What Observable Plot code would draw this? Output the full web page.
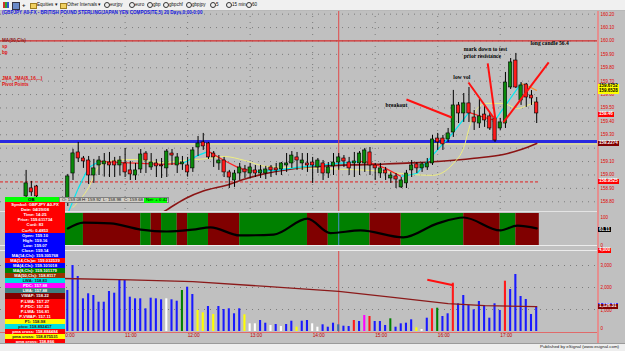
<!DOCTYPE html>
<html><head><meta charset="utf-8">
<script src="https://cdn.jsdelivr.net/npm/d3@7"></script>
<script src="https://cdn.jsdelivr.net/npm/@observablehq/plot@0.6"></script>
<style>
html,body{margin:0;padding:0;background:#c0c0c0;overflow:hidden}
#root{position:relative;width:625px;height:351px;background:#c0c0c0;overflow:hidden;font-family:"Liberation Sans",Arial,sans-serif}
.a{position:absolute;white-space:nowrap;line-height:1}
.panel{position:absolute;left:0}
.panel svg{display:block;overflow:hidden}
</style></head><body><div id="root"></div>
<script>
// ---------------- DATA ----------------
const titleText = "(GBPJPY A0-FX - BRITISH POUND STERLING/JAPAN YEN COMPOSITE,5) 20 Days,0:00-0:00";
const hourIdx = [-1, 11, 23, 35, 47, 59, 71, 83];
const hourLabels = ["10:00","11:00","12:00","13:00","14:00","15:00","16:00","17:00"];
const cursorIdx = 52; // 14:25

const preIdx = [-8, -7, -6];
const openP = [158.840,158.900,158.914,
158.825,159.011,159.168,159.123,159.108,158.996,159.071,159.079,159.093,159.101,
159.071,159.086,159.034,158.996,159.041,159.160,159.056,159.086,159.071,159.049,
159.160,159.071,159.079,159.071,159.049,159.205,159.243,159.235,159.160,159.086,
159.108,159.019,158.959,159.011,159.041,159.011,159.034,159.011,159.011,159.056,
159.049,159.041,159.071,159.086,159.131,159.086,159.086,159.093,159.056,159.086,
159.011,159.064,159.093,159.123,159.093,159.086,159.086,159.086,159.168,159.071,
159.011,159.034,158.974,158.989,158.907,158.937,159.034,159.079,159.049,159.056,
159.086,159.272,159.272,159.265,159.317,159.519,159.459,159.534,159.429,159.384,
159.451,159.437,159.422,159.347,159.384,159.653,159.854,159.556,159.675,159.593,
159.541];
const highP = [159.034,158.952,158.922,
159.004,159.191,159.243,159.138,159.138,159.116,159.138,159.160,159.168,159.131,
159.138,159.198,159.101,159.086,159.190,159.175,159.160,159.116,159.123,159.190,
159.190,159.160,159.138,159.131,159.205,159.287,159.310,159.243,159.175,159.145,
159.131,159.034,159.034,159.086,159.071,159.086,159.071,159.071,159.064,159.071,
159.086,159.093,159.160,159.175,159.168,159.160,159.160,159.131,159.123,159.108,
159.093,159.160,159.160,159.145,159.131,159.168,159.175,159.198,159.205,159.086,
159.086,159.056,159.019,159.011,158.981,159.034,159.108,159.093,159.093,159.123,
159.295,159.310,159.295,159.347,159.631,159.541,159.608,159.653,159.481,159.563,
159.519,159.466,159.429,159.422,159.765,159.869,159.907,159.690,159.683,159.630,
159.578];
const lowP = [158.810,158.840,158.818,
158.765,158.959,159.093,159.049,158.929,158.937,158.996,158.984,158.981,158.981,
158.992,158.981,158.959,158.959,159.011,159.011,159.034,158.981,158.974,158.981,
159.071,159.011,159.034,158.984,159.019,159.138,159.183,159.116,159.056,159.034,
158.981,158.899,158.907,158.959,158.974,158.974,158.981,158.974,158.966,158.981,
158.996,158.996,159.019,159.049,159.034,159.034,159.019,158.937,159.011,158.959,
158.974,158.996,159.034,159.056,158.996,158.981,158.996,159.019,158.996,158.959,
158.974,158.959,158.937,158.899,158.899,158.899,158.981,159.011,159.019,159.034,
159.071,159.183,159.183,159.243,159.280,159.384,159.392,159.392,159.332,159.347,
159.355,159.332,159.243,159.332,159.347,159.638,159.645,159.519,159.504,159.519,
159.384];
const closeP = [158.937,158.870,158.840,
158.989,159.161,159.123,159.101,158.996,159.049,159.108,159.101,159.071,159.071,
159.108,159.019,159.004,159.034,159.153,159.108,159.093,159.064,159.064,159.175,
159.145,159.131,159.093,159.019,159.183,159.235,159.213,159.131,159.131,159.108,
159.019,158.981,159.011,159.056,159.019,159.056,159.011,159.034,159.041,159.034,
159.034,159.086,159.086,159.145,159.108,159.108,159.071,159.071,159.108,159.011,
159.056,159.093,159.131,159.101,159.049,159.101,159.160,159.183,159.071,159.049,
159.049,159.011,158.996,158.966,158.959,159.011,159.071,159.049,159.079,159.086,
159.265,159.243,159.228,159.310,159.519,159.459,159.534,159.459,159.392,159.437,
159.407,159.347,159.257,159.392,159.690,159.840,159.653,159.668,159.578,159.571,
159.459];

// moving averages
const ma50Idx = [17,19,22.6,26,30.3,34,38,43,48,58.5,66,71,78,83.6,87,90];
const ma50Val = [158.69,158.74,158.825,158.88,158.922,158.97,159.011,159.045,159.064,159.079,159.09,159.101,159.125,159.153,159.19,159.235];
const yMaIdx = [1,4,6,9,13,18,22,27,30,34,38,42,48,54,58,62,66,70,72,74,76,77.3,78.6,80.2,83.6,86.3,88.2,90];
const yMaVal = [158.758,158.907,159.064,159.108,159.116,159.093,159.108,159.123,159.138,159.108,159.064,159.056,159.049,159.041,159.034,159.019,159.004,158.997,159.019,159.086,159.205,159.384,159.496,159.534,159.534,159.496,159.519,159.549];
const jmaIdx = [0,2,4,6,10,14,18,22,25,27,30,33,36,40,44,48,52,56,58,61,64,67,70,74,77,80,82,84,87,88.5,90];
const jmaVal = [158.713,158.900,159.056,159.101,159.093,159.086,159.079,159.086,159.146,159.176,159.108,159.049,159.026,159.034,159.056,159.071,159.086,159.101,159.093,159.049,158.989,159.011,159.146,159.317,159.467,159.429,159.407,159.519,159.683,159.660,159.630];
const jmaState = "UUUDDDDUUDDDUUUUUDDDUUUUDDUUNN";

// levels
const resistance = 160.00;
const support = 159.25;
const supportTint = 159.231;
const pivotLevel = 158.948;
const priceGrid = [160.2,160.1,160.0,159.9,159.8,159.7,159.6,159.5,159.4,159.3,159.2,159.1,159.0,158.9,158.8];
const priceLabels = [160.2,160.1,160.0,159.9,159.8,159.7,159.6,159.5,159.4,159.3,159.1,159.0,158.9,158.8];

// annotations
const annoX1 = [65.0, 76.9, 80.6, 92.3];
const annoY1 = [159.563, 159.690, 159.832, 159.840];
const annoX2 = [73.7, 81.7, 82.1, 83.6];
const annoY2 = [159.429, 159.429, 159.407, 159.392];
const annoText = ["breakout","low vol","mark down to test","prior resistance","long candle 56.4"];
const annoTextX = [61.0, 74.0, 76.0, 76.0, 88.8];
const annoTextY = [159.519, 159.728, 159.937, 159.884, 159.981];

// right-hand value boxes (price panel)
const boxText = ["159.6752","159.6528","159.46","159.2274","158.9525"];
const boxAt = [159.658, 159.618, 159.449, 159.230, 158.947];
const boxKind = ["Y","Y","R","D","R"];

// oscillator
const bandStart = [-0.5,3,14,16,18,21,23,27,33,46,50,58,64,76,83,86];
const bandEnd   = [3,14,16,18,21,23,27,33,46,50,58,64,76,83,86,90.5];
const bandState = "GRGRGRGRGRGRGRGR";
const oscIdx = [0,3,8.2,14,19,24,27.4,33,39.5,46,50.4,56.2,64.4,71,76,83,86.3,90];
const oscVal = [61,82,79,57,50,57,65,36,39,96,44,54,29,79,100,54,71,61.11];
const oscTicks = [100, 0];

// volume
const volume = [1864,3000,2500,1486,1714,1636,1332,1332,1818,1741,
2318,2318,1559,1486,1486,1032,1514,1486,1441,1486,
1441,1377,1864,2014,1682,955,850,1136,773,1136,
1000,1032,805,1032,759,350,350,500,377,273,
318,227,318,468,195,468,500,350,195,305,
195,377,305,241,227,500,455,727,682,455,
455,273,577,195,350,377,532,168,91,605,
1032,1059,682,805,2195,1259,1636,1182,986,1364,
1182,605,1259,955,2286,1909,2591,1591,1455,773,
1105];
const volType = "BBBBBBBBBB"+"BBBBBBBBBW"+"BBGBBYYBYB"+"BBBBYWWBBW"+"BWBBYBBWWB"+"BBSBBRBMRB"+"BBGBBBBYWB"+"RGBBRBBBBB"+"BBBBRBBBBB"+"B";
const volMaIdx = [-1,12,24,38,52,62,73,80,90];
const volMaVal = [2410,2350,2270,2050,1820,1560,1270,1180,1126.31];
const volAnnoX = [69.0, 74.0];
const volAnnoY = [2350, 2100];
const volTicks = [3000, 2000, 1000, 0];
const volTickLabels = ["3,000","2,000","1,000","0"];

// data window
const dwRows = [
 ["Symbol: GBPJPY A0-FX","R"],["Date: 04/29/08","R"],["Time: 14:25","R"],["Price: 159.611734","R"],["Cur#: 83","R"],["Cur%: 0.4853","R"],
 ["Open: 159.10","B"],["High: 159.16","B"],["Low: 159.07","B"],["Close: 159.14","B"],["MA(14,Cls): 159.305768","B"],
 ["MA(14,Cls)w: 159.032539","R"],["MA(4,Cls): 159.101018","B"],["MA(8,Cls): 159.101179","G"],["MA(50,Cls): 158.8117","N"],
 ["LWA: 158.83","C"],["PDC: 157.88","M"],["LWA: 157.88","T"],["VWAP: 158.22","D"],
 ["P-LWA: 157.27","R"],["P-PDC: 157.25","R"],["P-LWA: 156.81","R"],["P-VWAP: 157.11","R"],
 ["P1: 158.98","Y"],["pivo: 158.892417","C"],["pma cross: 158.884484","R"],["pma cross: 158.875531","Y"],["pma cross: 158.866","R"]
];
const ohlcBar = ["O: 159.08","H: 159.92","L: 158.98","C: 159.68"];
const netText = "Net: + 0.42";
const toolbarItems = ["eurjpy","euro","gbp","gbpchf","gbpjpy","5","15 min","60"];
const legendItems = [["MA(50,Cls)","#8b1a1a"],["sp","#e01010"],["bp","#e01010"],["JMA_JMA(8,,16,...)","#e01010"],["Pivot Points","#e01010"]];

// ---------------- BUILD ----------------
const root = document.getElementById("root");
const X_DOMAIN = [-67.3/5.21, (597-67.3)/5.21];
const PRICE_TOP = 10, PRICE_H = 201;
const PRICE_DOMAIN = [160.302 - 211/134, 160.302 - 10/134];
const OSC_TOP = 211, OSC_DOMAIN = [0, 32/0.28];
const VOL_TOP = 251, VOL_DOMAIN = [-1/0.022, 80/0.022];

const candles = preIdx.concat(d3.range(0, 91)).map((i, k) => ({i, open: openP[k], high: highP[k], low: lowP[k], close: closeP[k]}));
const ma50 = ma50Idx.map((i, k) => ({i, v: ma50Val[k]}));
const yMa = yMaIdx.map((i, k) => ({i, v: yMaVal[k]}));
const jmaColor = {U: "#00e8f0", D: "#ff2020", N: "#ff8c1a"};
const jmaSegs = jmaIdx.slice(1).map((i, k) => ({x1: jmaIdx[k], y1: jmaVal[k], x2: i, y2: jmaVal[k+1], c: jmaColor[jmaState[k]]}));
const annoLines = annoX1.map((x, k) => ({x1: x, y1: annoY1[k], x2: annoX2[k], y2: annoY2[k]}));
const annoTexts = annoText.map((t, k) => ({t, x: annoTextX[k], y: annoTextY[k]}));
const hours = hourIdx.map((i, k) => ({i, t: hourLabels[k]}));
const bands = bandStart.map((s, k) => ({s, e: bandEnd[k], c: bandState[k] === "G" ? "#008000" : "#800000"}));
const osc = oscIdx.map((i, k) => ({i, v: oscVal[k]}));
const volColor = {B: "#1a1aff", W: "#ffffff", Y: "#ffff00", G: "#008000", R: "#ff1a1a", M: "#ff00ff", S: "#3a6aa8"};
const vols = volume.map((v, i) => ({i, v, c: volColor[volType[i]]}));
const volMa = volMaIdx.map((i, k) => ({i, v: volMaVal[k]}));
const volAnno = [{x1: volAnnoX[0], y1: volAnnoY[0], x2: volAnnoX[1], y2: volAnnoY[1]}];
const vTicks = volTicks.map((v, k) => ({v, t: volTickLabels[k], dy: v === 0 ? -3 : (v === 1000 ? 1.5 : 0)}));

const AXIS_RED = "#e00000";
const axisText = {frameAnchor: "right", dx: 3, textAnchor: "start", fill: AXIS_RED, fontSize: 4.5, fontFamily: "Liberation Sans"};

function mount(top, svg) {
  const d = document.createElement("div");
  d.className = "panel"; d.style.top = top + "px";
  d.appendChild(svg); root.appendChild(d); return svg;
}
const common = {width: 625, marginLeft: 0, marginRight: 28, x: {domain: X_DOMAIN, axis: null}, color: {type: "identity"},
  style: {background: "transparent", fontFamily: "Liberation Sans"}};

const price = mount(PRICE_TOP, Plot.plot({...common, height: PRICE_H, marginTop: 0, marginBottom: 0,
  y: {domain: PRICE_DOMAIN, axis: null},
  marks: [
    Plot.ruleY(priceGrid, {stroke: "#7c7c7c", strokeDasharray: "1,5"}),
    Plot.ruleX(hourIdx, {stroke: "#7c7c7c", strokeDasharray: "1,5"}),
    Plot.ruleY([resistance], {stroke: "#d42a2a", strokeWidth: 1.3}),
    Plot.ruleY([supportTint], {stroke: "#ecec8a", strokeWidth: 1}),
    Plot.ruleY([support], {stroke: "#2a2ae0", strokeWidth: 3}),
    Plot.ruleY([pivotLevel], {x1: X_DOMAIN[0], x2: 90.5, stroke: "#e02020", strokeDasharray: "3,2", strokeWidth: 1}),
    Plot.ruleX([cursorIdx], {stroke: "#e04848"}),
    Plot.line(ma50, {x: "i", y: "v", stroke: "#8b1414", strokeWidth: 1.6, curve: "monotone-x"}),
    Plot.line(yMa, {x: "i", y: "v", stroke: "#eeee80", strokeWidth: 1, curve: "monotone-x"}),
    Plot.link(jmaSegs, {x1: "x1", y1: "y1", x2: "x2", y2: "y2", stroke: "c", strokeWidth: 1.2}),
    Plot.ruleX(candles, {x: "i", y1: "low", y2: "high", stroke: "black", strokeWidth: 1}),
    Plot.rect(candles, {x1: d => d.i - 0.32, x2: d => d.i + 0.32, y1: "open", y2: "close",
      fill: d => d.close >= d.open ? "#0a8a0a" : "#ff1a1a", stroke: "black", strokeWidth: 0.6}),
    Plot.link(annoLines, {x1: "x1", y1: "y1", x2: "x2", y2: "y2", stroke: "#ff1010", strokeWidth: 2}),
    Plot.text(annoTexts, {x: "x", y: "y", text: "t", textAnchor: "start", fill: "black", fontSize: 5.6, fontWeight: "bold", fontFamily: "Liberation Serif"}),
    Plot.text(priceLabels, {...axisText, y: d => d, text: d => d.toFixed(2), dy: 0})
  ]}));

const oscPlot = mount(OSC_TOP, Plot.plot({...common, height: 39, marginTop: 2, marginBottom: 5,
  y: {domain: OSC_DOMAIN, axis: null},
  marks: [
    Plot.rect(bands, {x1: "s", x2: "e", y1: OSC_DOMAIN[0], y2: OSC_DOMAIN[1], fill: "c"}),
    Plot.ruleX([cursorIdx], {stroke: "#4a90d0"}),
    Plot.line(osc, {x: "i", y: "v", stroke: "black", strokeWidth: 2.2, curve: "monotone-x"}),
    Plot.text(oscTicks, {...axisText, y: d => d, text: d => String(d)})
  ]}));

const volPlot = mount(VOL_TOP, Plot.plot({...common, height: 90, marginTop: 0, marginBottom: 9,
  y: {domain: VOL_DOMAIN, axis: null},
  marks: [
    Plot.ruleY(volTicks.filter(v => v > 0), {stroke: "#7c7c7c", strokeDasharray: "1,5"}),
    Plot.ruleX([cursorIdx], {stroke: "#e04848"}),
    Plot.rect(vols, {x1: d => d.i - 0.2, x2: d => d.i + 0.2, y1: 0, y2: "v", fill: "c"}),
    Plot.line(volMa, {x: "i", y: "v", stroke: "#8b1a1a", strokeWidth: 1.3}),
    Plot.link(volAnno, {x1: "x1", y1: "y1", x2: "x2", y2: "y2", stroke: "#ff1010", strokeWidth: 2}),
    Plot.ruleY([VOL_DOMAIN[0]], {stroke: "#e06a6a", strokeWidth: 1.2}),
    ...vTicks.map(t => Plot.text([t], {...axisText, y: "v", text: "t", dy: t.dy})),
    Plot.text(hours, {x: "i", text: "t", frameAnchor: "bottom", dy: 4.6, textAnchor: "start", fill: "#c00000", fontSize: 4.8})
  ]}));

// ---------------- OVERLAYS ----------------
function el(x, y, w, h, css) {
  const d = document.createElement("div"); d.className = "a";
  d.style.left = x + "px"; d.style.top = y + "px";
  if (w != null) d.style.width = w + "px";
  if (h != null) d.style.height = h + "px";
  Object.assign(d.style, css || {}); root.appendChild(d); return d;
}
function txt(x, y, s, css) { const d = el(x, y, null, null, css); d.textContent = s; return d; }

// separators and frame lines
el(0, 211, 597, 1, {background: "#e4e4e4"});
el(0, 245, 597, 1, {background: "#ececec"});
el(0, 250, 597, 1, {background: "#ececec"});
el(0, 9.5, 540, 0, {borderTop: "1px dashed #4f8f8f"});
el(597, 10, 1.6, 333, {background: "#e58f8f"});

// toolbar
el(0, 0, 625, 9.5, {background: "#f0f0f0", borderBottom: "0.5px solid #b8b8b8"});
el(3, 2, 6, 6, {background: "linear-gradient(90deg,#d03030 33%,#30a030 33% 66%,#3050d0 66%)"});
el(12, 2, 6, 6, {background: "#6a8ac8", border: "0.5px solid #334"});
txt(22, 1.8, "+", {fontSize: "6px", fontWeight: "bold", color: "#222"});
el(30, 2.5, 5, 4.5, {background: "#f0d060", border: "0.5px solid #a08020"});
txt(37, 2.6, "Equities  \u25BE", {fontSize: "4.6px", color: "#111"});
el(60, 2.5, 5, 4.5, {background: "#f0d060", border: "0.5px solid #a08020"});
txt(67, 2.6, "Other Intervals  \u25BE", {fontSize: "4.6px", color: "#111"});
const tbX = [104, 129, 147, 163, 186, 210, 226, 246];
toolbarItems.forEach((t, k) => {
  el(tbX[k], 2.3, 4, 4, {border: "0.6px solid #333", borderRadius: "50%"});
  txt(tbX[k] + 6, 2.6, t, {fontSize: "4.6px", color: "#111"});
});

// title + legend
txt(2, 10.8, titleText, {fontSize: "4.6px", fontWeight: "bold", color: "#1414e0"});
const legendY = [39, 45, 51, 76.5, 82.5];
legendItems.forEach(([t, c], k) => txt(2, legendY[k], t, {fontSize: "4.6px", fontWeight: "bold", color: c}));

// right value boxes
const ysc = price.scale("y");
const boxStyle = {Y: ["#ffff00", "#000"], R: ["#ff0000", "#fff"], D: ["#800000", "#fff"]};
boxText.forEach((t, k) => {
  const [bg, fg] = boxStyle[boxKind[k]];
  txt(598, PRICE_TOP + ysc.apply(boxAt[k]) - 2.6, t, {fontSize: "4.5px", background: bg, color: fg, padding: "0.3px 1px", fontWeight: "bold"});
});
const osc_y = oscPlot.scale("y");
txt(598, OSC_TOP + 2 + osc_y.apply(oscVal[oscVal.length - 1]) - 2.6, oscVal[oscVal.length - 1].toFixed(2), {fontSize: "4.5px", background: "#000", color: "#fff", padding: "0.3px 1px", fontWeight: "bold"});
const vy = volPlot.scale("y");
txt(598, 247.8, "4,000", {fontSize: "4.5px", background: "#ff0000", color: "#fff", padding: "0.3px 1px", fontWeight: "bold"});
txt(598, VOL_TOP + vy.apply(volMaVal[volMaVal.length - 1]) - 3.6, d3.format(",.2f")(volMaVal[volMaVal.length - 1]), {fontSize: "4.5px", background: "#800000", color: "#fff", padding: "0.3px 1px", fontWeight: "bold", borderTop: "0.6px solid #3030ff"});

// OHLC info bar
el(59, 197, 110, 6, {background: "#d4d0c8", border: "0.5px solid #808080", boxSizing: "border-box"});
const ohlcX = [62, 82, 103, 124];
ohlcBar.forEach((t, k) => txt(ohlcX[k], 198.2, t, {fontSize: "4.4px", color: "#111"}));
txt(144, 197.6, netText, {fontSize: "4.4px", color: "#000", background: "#00ff00", padding: "0.3px 2px", width: "19px"});

// data window
el(5, 197, 54, 5, {background: "#00ff00"});
txt(28, 197.8, "OB", {fontSize: "4.4px", fontWeight: "bold", color: "#000"});
const dwBg = {R: "#ff0000", B: "#0000ff", G: "#008000", N: "#993300", C: "#00e0e0", M: "#ff00ff", T: "#408080", D: "#800000", Y: "#ffff00"};
dwRows.forEach(([t, k], r) => {
  const y = 202.2 + r * 5.07;
  const d = el(5, y, 60, 5.07, {background: dwBg[k], color: (k === "Y" || k === "C") ? "#202020" : "#fff",
    fontSize: "4.2px", fontWeight: "bold", textAlign: "center", lineHeight: "5.07px", overflow: "hidden"});
  d.textContent = t;
});

// status bar
el(0, 343, 625, 8, {background: "#eeeeee", borderTop: "0.6px solid #9a9a9a", boxSizing: "border-box"});
txt(540, 345, "Published by eSignal (www.esignal.com)", {fontSize: "4.4px", color: "#222"});
</script></body></html>
